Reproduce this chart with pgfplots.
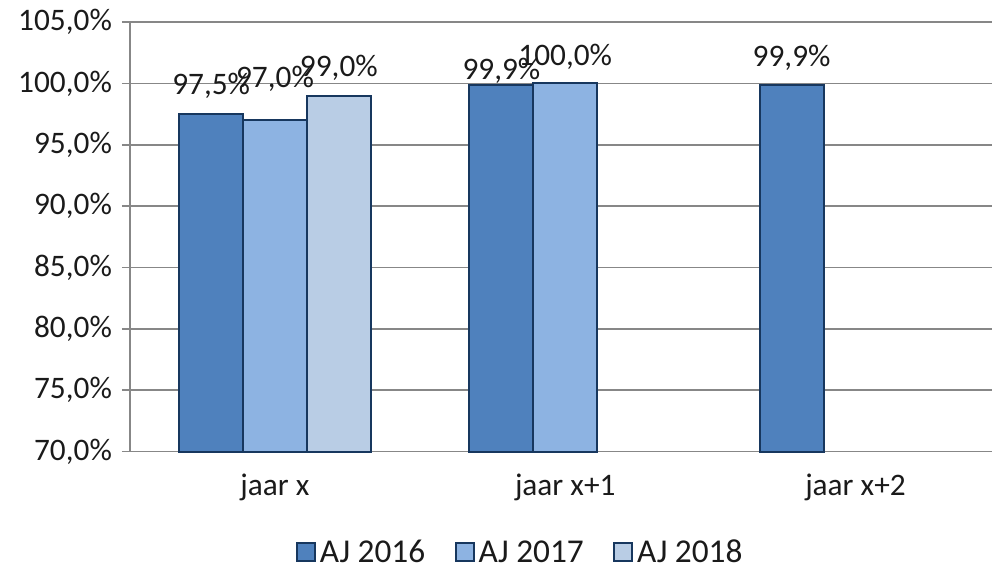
\documentclass[border=0pt]{standalone}
\usepackage{fontspec}
\setmainfont{Carlito}
\usepackage{pgfplots}
\usepackage{pgfplotstable}
\pgfplotsset{compat=1.18}
\usetikzlibrary{calc}

\definecolor{cA}{HTML}{4F81BD}
\definecolor{cB}{HTML}{8DB3E2}
\definecolor{cC}{HTML}{B9CDE5}
\definecolor{edge}{HTML}{17375E}
\definecolor{gridc}{HTML}{878787}
\definecolor{txt}{HTML}{1A1A1A}

% x = category, y = value, dy = label offset above bar (pt)
\pgfplotstableread{
x y dy
0 97.5 21
1 99.9 10.5
2 99.9 20
}\ajA
\pgfplotstableread{
x y dy
0 97.0 31
1 100.0 20
}\ajB
\pgfplotstableread{
x y dy
0 99.0 21
}\ajC

\begin{document}
\begin{tikzpicture}
\begin{axis}[
    scale only axis,
    width=647.25pt, height=322.5pt,
    ybar=0pt, bar width=0.22,
    xmin=-0.5, xmax=2.471,
    ymin=70, ymax=105,
    ytick={70,75,...,105},
    xtick={0,1,2},
    xticklabels={jaar x,jaar x+1,jaar x+2},
    major x tick style={draw=none},
    extra x ticks={-0.5,0.5,1.5},
    extra x tick labels={},
    extra x tick style={grid=none, major tick length=6pt, tick style={draw=gridc, line width=1.2pt}},
    axis lines*=left,
    axis line style={draw=gridc, line width=1.2pt, -},
    ymajorgrids,
    grid style={draw=gridc, line width=1.2pt},
    tick align=outside,
    major tick length=6pt,
    y tick style={draw=gridc, line width=1.2pt},
    font=\fontsize{23.5}{26}\selectfont,
    tick label style={text=txt, font=\fontsize{23.5}{26}\selectfont},
    /pgf/number format/assume math mode=true,
    yticklabel={\pgfmathprintnumber[fixed,fixed zerofill,precision=1,use comma]{\tick}\%},
    yticklabel style={xshift=-4pt},
    xticklabel style={yshift=-7pt},
    nodes near coords={\pgfmathprintnumber[fixed,fixed zerofill,precision=1,use comma]{\pgfplotspointmeta}\%},
    visualization depends on={\thisrow{dy} \as \dy},
    every node near coord/.append style={anchor=center, yshift=\dy, text=txt, font=\fontsize{23.5}{26}\selectfont},
    clip=false,
    legend columns=-1,
    legend style={at={(0.453,-0.235)}, anchor=center, draw=none, fill=none,
        font=\fontsize{25}{28}\selectfont, text=txt,
        /tikz/every even column/.append style={column sep=20pt},
        /tikz/every odd column/.append style={column sep=1pt}},
    legend image code/.code={\draw[#1, bar shift=0pt] (0pt,-6.5pt) rectangle (13.5pt,7pt);},
]
\addplot[fill=cA, draw=edge, line width=1.5pt] table[x=x, y=y] {\ajA};
\addplot[fill=cB, draw=edge, line width=1.5pt] table[x=x, y=y] {\ajB};
\addplot[fill=cC, draw=edge, line width=1.5pt] table[x=x, y=y] {\ajC};
\legend{AJ 2016, AJ 2017, AJ 2018}
\end{axis}
\path[use as bounding box] ($(current axis.south west)+(-97.5pt,-90pt)$) rectangle ($(current axis.north east)+(0pt,16.5pt)$);
\end{tikzpicture}
\end{document}
